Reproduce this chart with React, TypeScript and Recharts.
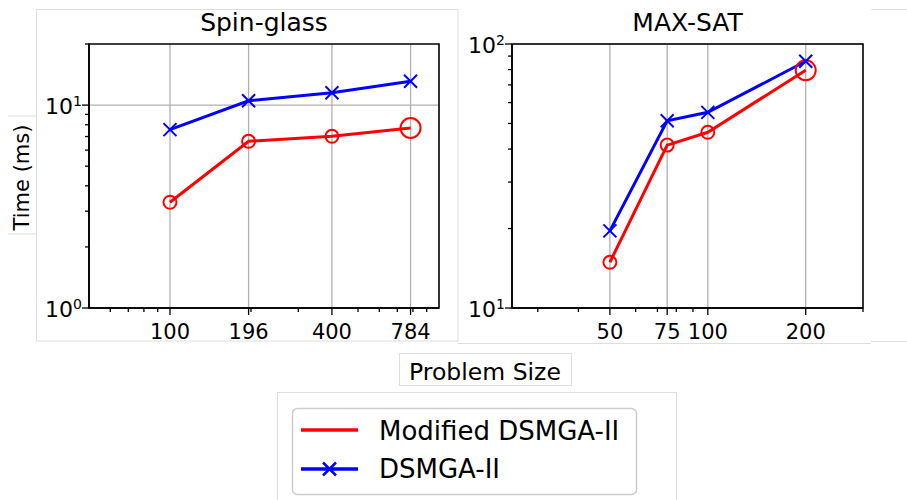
import React from 'react';
import { LineChart, Line, XAxis, YAxis, CartesianGrid, ReferenceArea } from 'recharts';

const FONT = '"DejaVu Sans", "Liberation Sans", sans-serif';
const RED = '#ff0000';
const BLUE = '#0000ff';
const GRID = '#b0b0b0';
const FAINT = '#dedede';

const seriesNames = ['Modified DSMGA-II', 'DSMGA-II'];
const panelTitles = ['Spin-glass', 'MAX-SAT'];
const yAxisTitle = 'Time (ms)';
const xAxisTitle = 'Problem Size';

// Spin-glass panel
const spinSizes = [100, 196, 400, 784];
const spinModified = [3.32, 6.63, 7.02, 7.71];
const spinDsmga = [7.57, 10.5, 11.5, 13.1];
const spinXMinor = [60, 70, 80, 90, 200, 300, 500, 600, 700, 800, 900];
const spinYMajor = [1, 10];
const spinYMinor = [2, 3, 4, 5, 6, 7, 8, 9, 20];
const spinXDomain = [50, 1000];
const spinYDomain = [1, 20];

// MAX-SAT panel
const satSizes = [50, 75, 100, 200];
const satModified = [14.9, 41.4, 46.3, 79.6];
const satDsmga = [19.6, 51.2, 55.1, 86.0];
const satXMinor = [30, 40, 60, 70, 80, 90, 300];
const satYMajor = [10, 100];
const satYMinor = [20, 30, 40, 50, 60, 70, 80, 90];
const satXDomain = [25, 300];
const satYDomain = [10, 100];

type PanelProps = {
  sizes: number[];
  modified: number[];
  dsmga: number[];
  xMinor: number[];
  yMajor: number[];
  yMinor: number[];
  xDomain: number[];
  yDomain: number[];
  left: number;
  width: number;
  margin: { top: number; right: number; bottom: number; left: number };
  yAxisWidth: number;
};

const XTick = (props: any) => {
  const { x, y, payload, majors } = props;
  const v = payload.value;
  const major = majors.includes(v);
  return (
    <g>
      <line x1={x} x2={x} y1={y} y2={y + (major ? 7 : 4)} stroke="#000" strokeWidth={1.3} />
      {major && (
        <text x={x} y={y + 31} textAnchor="middle" fontSize={21} fontFamily={FONT} fill="#000">
          {v}
        </text>
      )}
    </g>
  );
};

const YTick = (props: any) => {
  const { x, y, payload, majors } = props;
  const v = payload.value;
  const major = majors.includes(v);
  const exp = Math.round(Math.log10(v));
  return (
    <g>
      <line x1={x - (major ? 7 : 4)} x2={x} y1={y} y2={y} stroke="#000" strokeWidth={1.3} />
      {major && (
        <text x={x - 7} y={y + 8.5} textAnchor="end" fontSize={22} fontFamily={FONT} fill="#000">
          10
          <tspan dy={-8} fontSize={14}>
            {exp}
          </tspan>
        </text>
      )}
    </g>
  );
};

const CircleDot = (props: any) => {
  const { cx, cy, index, dataLength } = props;
  const r = index === dataLength - 1 ? 10 : 6.5;
  return <circle key={`c-${index}`} cx={cx} cy={cy} r={r} fill="none" stroke={RED} strokeWidth={2} />;
};

const CrossDot = (props: any) => {
  const { cx, cy, index } = props;
  const s = 6.5;
  return (
    <g key={`x-${index}`}>
      <line x1={cx - s} y1={cy - s} x2={cx + s} y2={cy + s} stroke={BLUE} strokeWidth={2} />
      <line x1={cx - s} y1={cy + s} x2={cx + s} y2={cy - s} stroke={BLUE} strokeWidth={2} />
    </g>
  );
};

const Panel = (p: PanelProps) => {
  const data = p.sizes.map((n, i) => ({ n, modified: p.modified[i], dsmga: p.dsmga[i] }));
  const xTicks = [...p.sizes, ...p.xMinor.filter((v) => !p.sizes.includes(v))];
  const yTicks = [...p.yMajor, ...p.yMinor];
  return (
    <div style={{ position: 'absolute', left: p.left, top: 0 }}>
      <LineChart width={p.width} height={350} data={data} margin={p.margin}>
        <CartesianGrid
          verticalValues={p.sizes}
          horizontalValues={p.yMajor}
          stroke={GRID}
          strokeWidth={1.3}
          fill="none"
        />
        <XAxis
          dataKey="n"
          type="number"
          scale="log"
          domain={p.xDomain}
          allowDataOverflow
          ticks={xTicks}
          interval={0}
          tickSize={0}
          tickMargin={0}
          tickLine={false}
          height={30}
          axisLine={{ stroke: '#000', strokeWidth: 1.6 }}
          tick={(tp: any) => <XTick {...tp} majors={p.sizes} />}
        />
        <YAxis
          type="number"
          scale="log"
          domain={p.yDomain}
          allowDataOverflow
          ticks={yTicks}
          interval={0}
          tickSize={0}
          tickMargin={0}
          tickLine={false}
          width={p.yAxisWidth}
          axisLine={{ stroke: '#000', strokeWidth: 1.6 }}
          tick={(tp: any) => <YTick {...tp} majors={p.yMajor} />}
        />
        <ReferenceArea
          x1={p.xDomain[0]}
          x2={p.xDomain[1]}
          y1={p.yDomain[0]}
          y2={p.yDomain[1]}
          fill="none"
          stroke="#000"
          strokeWidth={1.6}
          fillOpacity={0}
        />
        <Line
          dataKey="modified"
          name={seriesNames[0]}
          stroke={RED}
          strokeWidth={3}
          isAnimationActive={false}
          dot={(dp: any) => <CircleDot {...dp} key={`m-${dp.index}`} dataLength={data.length} />}
        />
        <Line
          dataKey="dsmga"
          name={seriesNames[1]}
          stroke={BLUE}
          strokeWidth={3}
          isAnimationActive={false}
          dot={(dp: any) => <CrossDot {...dp} key={`d-${dp.index}`} />}
        />
      </LineChart>
    </div>
  );
};

const Backdrop = () => (
  <svg width={907} height={500} style={{ position: 'absolute', left: 0, top: 0 }}>
    {/* faint panel frames */}
    <rect x={36.5} y={9.5} width={421.5} height={331.5} fill="none" stroke={FAINT} strokeWidth={1} />
    <line x1={8} x2={36.5} y1={116} y2={116} stroke={FAINT} />
    <line x1={8} x2={36.5} y1={234} y2={234} stroke={FAINT} />
    <line x1={458} x2={871} y1={343.5} y2={343.5} stroke={FAINT} />
    <line x1={871} x2={907} y1={9.5} y2={9.5} stroke={FAINT} />
    <line x1={871} x2={907} y1={341.5} y2={341.5} stroke={FAINT} />
    <rect x={399.5} y={353.5} width={172} height={32} fill="none" stroke={FAINT} />
    <rect x={277.5} y={392.5} width={399} height={120} fill="none" stroke={FAINT} />
  </svg>
);

const Texts = () => (
  <svg width={907} height={500} style={{ position: 'absolute', left: 0, top: 0, pointerEvents: 'none' }}>
    <text x={264} y={31} textAnchor="middle" fontSize={25} fontFamily={FONT} fill="#000">
      {panelTitles[0]}
    </text>
    <text x={687.5} y={31} textAnchor="middle" fontSize={25} fontFamily={FONT} fill="#000">
      {panelTitles[1]}
    </text>
    <text
      transform="translate(29,177.5) rotate(-90)"
      textAnchor="middle"
      fontSize={21}
      fontFamily={FONT}
      fill="#000"
    >
      {yAxisTitle}
    </text>
    <text x={485} y={380} textAnchor="middle" fontSize={23.5} fontFamily={FONT} fill="#000">
      {xAxisTitle}
    </text>
    {/* legend */}
    <rect x={292.5} y={408.5} width={344} height={86} rx={5} fill="#fff" stroke="#cccccc" strokeWidth={1.5} />
    <line x1={301} x2={358} y1={430} y2={430} stroke={RED} strokeWidth={3.5} />
    <line x1={301} x2={358} y1={469} y2={469} stroke={BLUE} strokeWidth={3.5} />
    <line x1={323} x2={336} y1={462.5} y2={475.5} stroke={BLUE} strokeWidth={2.5} />
    <line x1={323} x2={336} y1={475.5} y2={462.5} stroke={BLUE} strokeWidth={2.5} />
    <text x={379} y={440} fontSize={26} fontFamily={FONT} fill="#000">
      {seriesNames[0]}
    </text>
    <text x={379} y={478} fontSize={26} fontFamily={FONT} fill="#000">
      {seriesNames[1]}
    </text>
  </svg>
);

export default function App() {
  return (
    <div style={{ position: 'absolute', left: 0, top: 0, width: 907, height: 500, background: '#fff' }}>
      <Backdrop />
      <Panel
        sizes={spinSizes}
        modified={spinModified}
        dsmga={spinDsmga}
        xMinor={spinXMinor}
        yMajor={spinYMajor}
        yMinor={spinYMinor}
        xDomain={spinXDomain}
        yDomain={spinYDomain}
        left={0}
        width={460}
        margin={{ top: 44, right: 21, bottom: 12, left: 39 }}
        yAxisWidth={50}
      />
      <Panel
        sizes={satSizes}
        modified={satModified}
        dsmga={satDsmga}
        xMinor={satXMinor}
        yMajor={satYMajor}
        yMinor={satYMinor}
        xDomain={satXDomain}
        yDomain={satYDomain}
        left={460}
        width={447}
        margin={{ top: 44, right: 44, bottom: 12, left: 12 }}
        yAxisWidth={40}
      />
      <Texts />
    </div>
  );
}
